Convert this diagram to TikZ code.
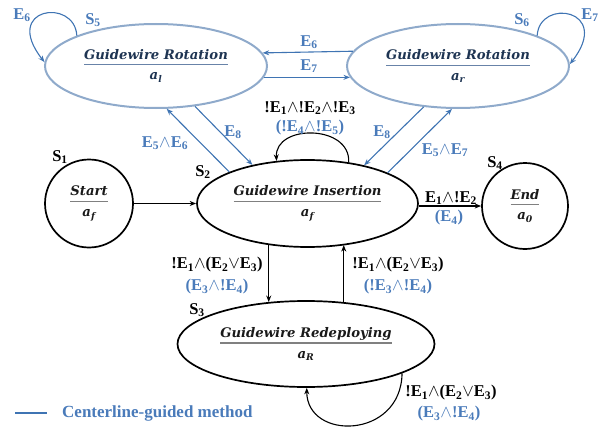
\documentclass[tikz,border=0pt]{standalone}
\usepackage{fontspec}
\setmainfont{Liberation Serif}
\newfontfamily\statefont{DejaVu Serif}
\usetikzlibrary{shapes.geometric,arrows.meta}

\definecolor{flowblue}{HTML}{3F74B3}
\definecolor{labelblue}{HTML}{4A7BBA}
\definecolor{rotedge}{HTML}{8FAACB}
\definecolor{rottext}{HTML}{1E3452}
\definecolor{rotrule}{HTML}{6883A8}
\definecolor{statetext}{HTML}{1A1A1A}
\definecolor{staterule}{HTML}{808080}

\newcommand\Ev[1]{E\textsubscript{#1}}
\newcommand\Sv[1]{S\textsubscript{#1}}
\newcommand\wg{\ensuremath{\wedge}}
\newcommand\vg{\ensuremath{\vee}}

% state caption: title, rule, action symbol
\newcommand\fracstate[3]{%
  \setbox0=\hbox{#1}\ht0=10pt \dp0=2.5pt
  \vbox{\offinterlineskip
    \copy0 \kern2.5pt
    \hbox to \wd0{\color{#3}\leaders\hrule height 1.3pt\hfil}\kern4.5pt
    \hbox to \wd0{\hfil\vrule width 0pt height 10pt #2\hfil}}}

\tikzset{
  statefont/.style={font=\statefont\bfseries\itshape\fontsize{13.2}{15}\selectfont},
  stateshape/.style={ellipse, draw=black, line width=1.7pt, inner sep=0pt,
    text=statetext, statefont},
  insstate/.style={stateshape, minimum width=221pt, minimum height=87pt},
  rotstate/.style={stateshape, draw=rotedge, line width=2pt, text=rottext,
    minimum width=222pt, minimum height=84pt},
  ringstate/.style={circle, draw=black, line width=1.7pt, inner sep=0pt,
    text=statetext, statefont, minimum size=#1},
  flow/.style={-{Stealth[length=6.5pt,width=5pt]}, line width=1.1pt, draw=black},
  bflow/.style={flow, draw=flowblue},
  lab/.style={font=\bfseries\fontsize{16.5}{18}\selectfont, text=black, inner sep=0pt},
  blab/.style={lab, text=labelblue},
}

\begin{document}
\begin{tikzpicture}[x=1pt, y=-1pt]
\useasboundingbox (0,0) rectangle (605,428);

% states
\node[rotstate] (rotl) at (156,66) {\fracstate{Guidewire Rotation}{a\textsubscript{l}}{rotrule}};
\node[rotstate] (rotr) at (458,66) {\fracstate{Guidewire Rotation}{a\textsubscript{r}}{rotrule}};
\node[insstate] (ins) at (307.5,203.5) {\fracstate{Guidewire Insertion}{a\textsubscript{f}}{staterule}};
\node[insstate, minimum width=257pt, minimum height=86pt] (redep) at (306,344)
  {\fracstate{Guidewire Redeploying}{a\textsubscript{R}}{staterule}};
\node[ringstate=88pt] (start) at (89,203.5) {\fracstate{Start}{a\textsubscript{f}}{staterule}};
\node[ringstate=86pt] (end) at (525,206) {\fracstate{End}{a\textsubscript{0}}{staterule}};

% state names
\node[lab] (s1) at (60,157) {\Sv{1}};
\node[lab] (s2) at (203,172) {\Sv{2}};
\node[lab] (s3) at (197,310) {\Sv{3}};
\node[lab] (s4) at (495,163) {\Sv{4}};
\node[blab] (s5) at (93,20) {\Sv{5}};
\node[blab] (s6) at (522,20) {\Sv{6}};

% main flow
\draw[flow] (start.east) -- (ins.west);
\draw[flow] (ins.east |- end.west) -- (end.west);
\node[lab] (tEnd) at (451,198) {\Ev{1}\wg!\Ev{2}};
\node[blab] (tEndB) at (449,218) {(\Ev{4})};

\draw[flow] (ins.45) .. controls +(2,-38) and +(-2,-37) .. (ins.126);
\node[lab] (tLoop) at (310,108) {!\Ev{1}\wg!\Ev{2}\wg!\Ev{3}};
\node[blab] (tLoopB) at (310,127.5) {(!\Ev{4}\wg!\Ev{5})};

\draw[flow] (ins.-133) -- (ins.-133 |- redep.132);
\draw[flow] (redep.48) -- (redep.48 |- ins.-47);
\node[lab] (tDown) at (217,265) {!\Ev{1}\wg(\Ev{2}\vg\Ev{3})};
\node[blab] (tDownB) at (217,287) {(\Ev{3}\wg!\Ev{4})};
\node[lab] (tUp) at (398,265) {!\Ev{1}\wg(\Ev{2}\vg\Ev{3})};
\node[blab] (tUpB) at (398,287) {(!\Ev{3}\wg!\Ev{4})};

\draw[flow] (redep.-17.5) .. controls +(-1,66) and +(0,53) .. (redep.-89);
\node[lab] (tRe) at (451,393) {!\Ev{1}\wg(\Ev{2}\vg\Ev{3})};
\node[blab] (tReB) at (449,414) {(\Ev{3}\wg!\Ev{4})};

% centerline-guided transitions
\draw[bflow] (ins.158) -- (rotl.-76);
\draw[bflow] (rotl.-46) -- (ins.145);
\draw[bflow] (rotr.-130) -- (ins.34);
\draw[bflow] (ins.21) -- (rotr.-98);
\node[blab] (tL1) at (165,143) {\Ev{5}\wg\Ev{6}};
\node[blab] (tL2) at (233,132) {\Ev{8}};
\node[blab] (tR1) at (382,132) {\Ev{8}};
\node[blab] (tR2) at (445,150) {\Ev{5}\wg\Ev{7}};

\draw[bflow] (rotr.172.4) -- (rotl.7.6);
\draw[bflow] (rotl.-6.4) -- (rotr.186.4);
\node[blab] (tH1) at (309,42) {\Ev{6}};
\node[blab] (tH2) at (309,66) {\Ev{7}};

\draw[bflow] (rotl.159) .. controls +(-2,-38) and +(-43,-55) .. (rotl.178.5);
\draw[bflow] (rotr.21) .. controls +(2,-38) and +(43,-55) .. (rotr.1.5);
\node[blab] (tSelfL) at (22,15) {\Ev{6}};
\node[blab] (tSelfR) at (590,15) {\Ev{7}};

% key
\coordinate (keyL) at (15,413);
\coordinate (keyR) at (47,413);
\draw[flowblue, line width=1.2pt] (keyL) -- (keyR);
\node[blab, anchor=west, font=\bfseries\fontsize{17}{18}\selectfont] (key) at (62,413) {Centerline-guided method};
\end{tikzpicture}
\end{document}
